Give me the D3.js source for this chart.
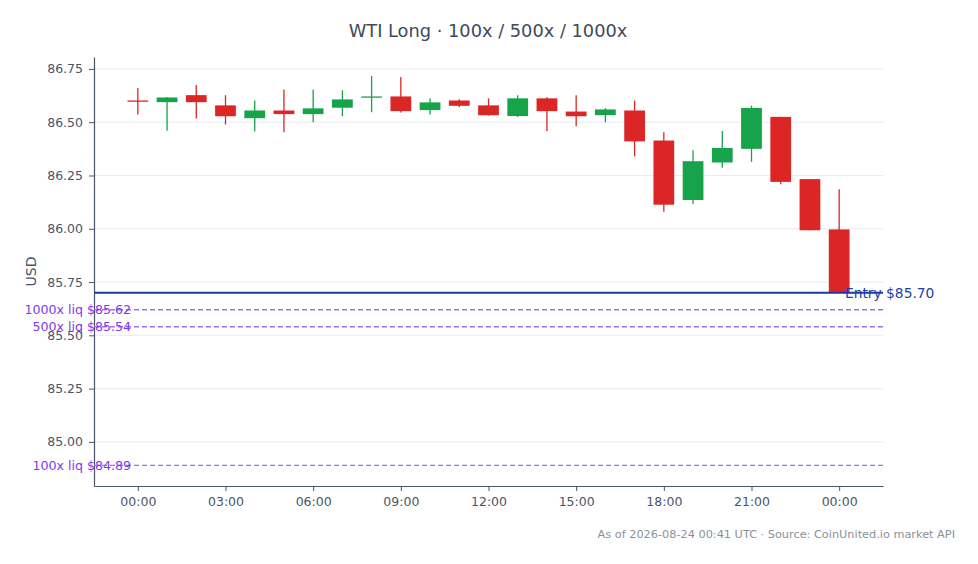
<!DOCTYPE html>
<html>
<head>
<meta charset="utf-8">
<script src="https://cdn.jsdelivr.net/npm/d3@7"></script>
<style>
  body { margin: 0; background: #fff; }
  svg { font-family: "DejaVu Sans", sans-serif; }
</style>
</head>
<body>
<div id="chart"></div>
<script>
// hourly candles, 2026-08-23 00:00 UTC -> 2026-08-24 00:00 UTC
const hours = d3.range(25);
const opens  = [86.602, 86.594, 86.627, 86.579, 86.519, 86.555, 86.538, 86.568, 86.619, 86.621, 86.557, 86.602, 86.579, 86.529, 86.612, 86.550, 86.533, 86.555, 86.414, 86.135, 86.311, 86.375, 86.525, 86.233, 85.997];
const closes = [86.596, 86.616, 86.594, 86.528, 86.555, 86.538, 86.565, 86.607, 86.621, 86.552, 86.593, 86.577, 86.533, 86.612, 86.552, 86.528, 86.560, 86.410, 86.113, 86.317, 86.379, 86.567, 86.220, 85.993, 85.700];
const highs  = [86.660, 86.618, 86.675, 86.627, 86.602, 86.654, 86.654, 86.650, 86.717, 86.712, 86.612, 86.608, 86.612, 86.627, 86.617, 86.627, 86.566, 86.602, 86.453, 86.369, 86.459, 86.578, 86.526, 86.234, 86.185];
const lows   = [86.536, 86.460, 86.517, 86.489, 86.458, 86.453, 86.500, 86.528, 86.547, 86.546, 86.536, 86.571, 86.531, 86.524, 86.458, 86.481, 86.500, 86.340, 86.080, 86.116, 86.286, 86.314, 86.209, 85.993, 85.700];

const entryPrice = 85.70;
const liqLabels = ["1000x liq $85.62", "500x liq $85.54", "100x liq $84.89"];
const liqPrices = [85.62, 85.54, 84.89];
const yTicks = [85.00, 85.25, 85.50, 85.75, 86.00, 86.25, 86.50, 86.75];

const W = 978, H = 564;
const MARGIN = { LEFT: 94, RIGHT: 95, TOP: 57, BOTTOM: 78 };
const t0 = Date.UTC(2026, 7, 23, 0, 0);
const HOUR = 3600 * 1000;

const data = hours.map((h, i) => ({
  t: new Date(t0 + h * HOUR),
  o: opens[i], c: closes[i], h: highs[i], l: lows[i]
}));

const svg = d3.select("#chart").append("svg")
  .attr("width", W).attr("height", H);

const x = d3.scaleUtc()
  .domain([new Date(t0 - 1.5 * HOUR), new Date(t0 + 25.5 * HOUR)])
  .range([MARGIN.LEFT, W - MARGIN.RIGHT]);
const y = d3.scaleLinear()
  .domain([84.793, 86.806])
  .range([H - MARGIN.BOTTOM, MARGIN.TOP]);

// title
svg.append("text")
  .attr("x", 488).attr("y", 37)
  .attr("text-anchor", "middle")
  .attr("font-size", 17.8).attr("fill", "#3d4a5c")
  .text("WTI Long · 100x / 500x / 1000x");

// grid
svg.append("g").selectAll("line").data(yTicks).join("line")
  .attr("x1", MARGIN.LEFT).attr("x2", W - MARGIN.RIGHT)
  .attr("y1", d => y(d)).attr("y2", d => y(d))
  .attr("stroke", "#e8eaee").attr("stroke-width", 1);

// axes
const xAxis = d3.axisBottom(x)
  .tickValues(d3.range(0, 25, 3).map(h => new Date(t0 + h * HOUR)))
  .tickFormat(d3.utcFormat("%H:%M"))
  .tickSize(5).tickSizeOuter(0).tickPadding(6);
const yAxis = d3.axisLeft(y)
  .tickValues(yTicks)
  .tickFormat(d3.format(".2f"))
  .tickSize(5).tickSizeOuter(0).tickPadding(6);

const gx = svg.append("g")
  .attr("transform", `translate(0,${H - MARGIN.BOTTOM})`)
  .call(xAxis);
const gy = svg.append("g")
  .attr("transform", `translate(${MARGIN.LEFT},0)`)
  .call(yAxis);
[gx, gy].forEach(g => {
  g.select(".domain").attr("stroke", "#4a5568").attr("stroke-width", 1.2);
  g.selectAll(".tick line").attr("stroke", "#4a5568");
  g.selectAll(".tick text").attr("fill", "#4a5568")
    .attr("font-size", 12.5).attr("font-family", "DejaVu Sans, sans-serif");
});

svg.append("text")
  .attr("transform", `translate(36,${(MARGIN.TOP + H - MARGIN.BOTTOM) / 2}) rotate(-90)`)
  .attr("text-anchor", "middle")
  .attr("font-size", 14).attr("fill", "#4a5568")
  .text("USD");

// candles
const hourW = x(new Date(t0 + HOUR)) - x(new Date(t0));
const bodyW = hourW * 0.71;
const up = "#16a34a", down = "#dc2626";
const candle = svg.append("g").selectAll("g").data(data).join("g");
candle.append("line")
  .attr("x1", d => x(d.t)).attr("x2", d => x(d.t))
  .attr("y1", d => y(d.h)).attr("y2", d => y(d.l))
  .attr("stroke", d => d.c >= d.o ? up : down)
  .attr("stroke-width", 1.3);
candle.append("rect")
  .attr("x", d => x(d.t) - bodyW / 2)
  .attr("width", bodyW)
  .attr("y", d => y(Math.max(d.o, d.c)))
  .attr("height", d => Math.max(1.3, Math.abs(y(d.o) - y(d.c))))
  .attr("fill", d => d.c >= d.o ? up : down);

// liquidation levels
const liq = svg.append("g").selectAll("g").data(liqPrices).join("g");
liq.append("line")
  .attr("x1", MARGIN.LEFT).attr("x2", W - MARGIN.RIGHT)
  .attr("y1", d => y(d)).attr("y2", d => y(d))
  .attr("stroke", "#9d6ff2").attr("stroke-width", 1.4)
  .attr("stroke-dasharray", "5,3");
liq.append("text")
  .attr("x", 131).attr("y", d => y(d))
  .attr("dy", "0.35em")
  .attr("text-anchor", "end")
  .attr("font-size", 12.6).attr("fill", "#7c3aed")
  .text((d, i) => liqLabels[i]);

// entry
svg.append("line")
  .attr("x1", MARGIN.LEFT).attr("x2", W - MARGIN.RIGHT)
  .attr("y1", y(entryPrice)).attr("y2", y(entryPrice))
  .attr("stroke", "#1e3a9e").attr("stroke-width", 2);
svg.append("text")
  .attr("x", 845).attr("y", y(entryPrice))
  .attr("dy", "0.35em")
  .attr("font-size", 13.8).attr("fill", "#1e40af")
  .text("Entry $" + entryPrice.toFixed(2));

// footer
svg.append("text")
  .attr("x", 955).attr("y", 538)
  .attr("text-anchor", "end")
  .attr("font-size", 11.3).attr("fill", "#8a919c")
  .text("As of 2026-08-24 00:41 UTC · Source: CoinUnited.io market API");
</script>
</body>
</html>
